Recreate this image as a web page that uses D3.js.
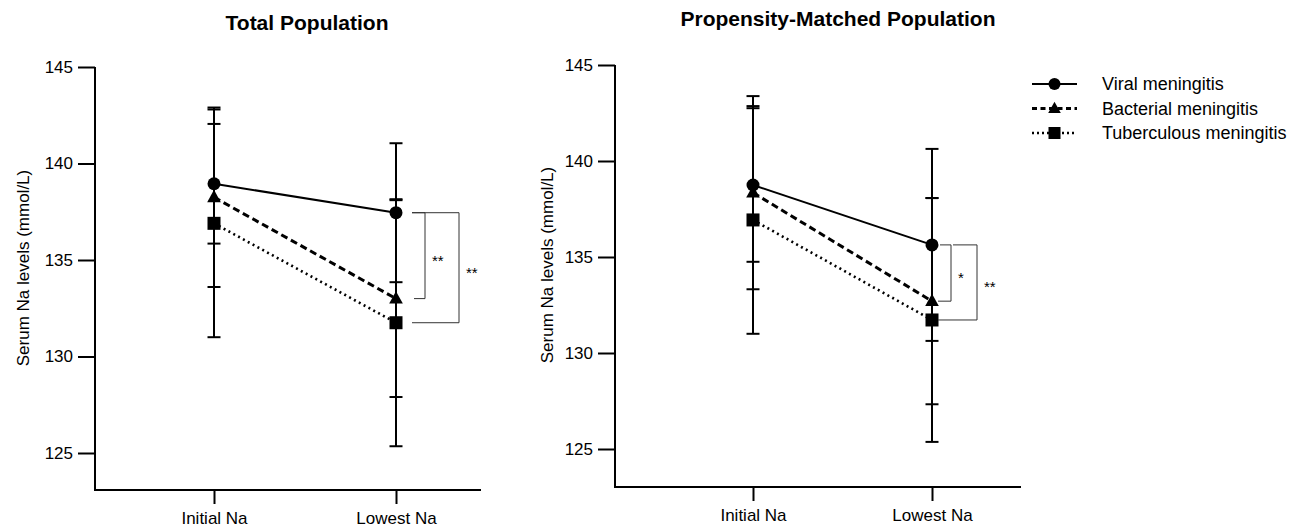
<!DOCTYPE html>
<html>
<head>
<meta charset="utf-8">
<script src="https://cdn.jsdelivr.net/npm/d3@7"></script>
<style>
  body { margin: 0; background: #fff; }
  text { font-family: "Liberation Sans", Arial, sans-serif; fill: #000; }
</style>
</head>
<body>
<script>
// data
var timepoints = ["Initial Na", "Lowest Na"];
var groups = ["Viral meningitis", "Bacterial meningitis", "Tuberculous meningitis"];
var yTicks = [125, 130, 135, 140, 145];

// total population: mean and SD per group, [initial, lowest]
var totalMean = [[138.95, 137.45], [138.25, 133.0], [136.9, 131.75]];
var totalSD   = [[3.1, 3.6], [4.65, 5.1], [5.9, 6.4]];
// propensity-matched population
var matchedMean = [[138.75, 135.63], [138.35, 132.7], [136.93, 131.72]];
var matchedSD   = [[4.0, 5.0], [5.03, 5.37], [5.93, 6.35]];

// significance brackets: [group a, group b, label]
var totalSig = [[0, 1, "**"], [0, 2, "**"]];
var matchedSig = [[0, 1, "*"], [0, 2, "**"]];

var W = 1296, H = 530;
var svg = d3.select("body").append("svg").attr("width", W).attr("height", H);

var lineStyle = [
  { dash: null, width: 2 },
  { dash: "7,4", width: 3 },
  { dash: "2,3.5", width: 2.6 }
];

function marker(g, i, x, y, s) {
  if (i == 0) {
    g.append("circle").attr("cx", x).attr("cy", y).attr("r", s);
  } else if (i == 1) {
    var h = s * 1.9;
    g.append("path")
      .attr("d", "M" + x + "," + (y - h * 0.6) + "L" + (x + s * 1.05) + "," + (y + h * 0.4) + "L" + (x - s * 1.05) + "," + (y + h * 0.4) + "Z");
  } else {
    g.append("rect").attr("x", x - s).attr("y", y - s).attr("width", s * 2).attr("height", s * 2);
  }
}

function panel(p) {
  var g = svg.append("g");
  var y = d3.scaleLinear().domain([125, 145]).range([p.y125, p.y145]);
  var x = d3.scalePoint().domain(timepoints).range([p.xi, p.xl]);

  g.append("text").attr("x", p.tx).attr("y", p.ty).attr("text-anchor", "middle")
    .style("font-weight", "bold").style("font-size", "21px").text(p.title);

  // y axis
  var ya = g.append("g").attr("transform", "translate(" + p.x0 + ",0)")
    .call(d3.axisLeft(y).tickValues(yTicks).tickSize(17).tickPadding(5).tickSizeOuter(0));
  ya.select(".domain").remove();
  ya.append("line").attr("x1", 0).attr("x2", 0).attr("y1", y(145)).attr("y2", p.yb + 1)
    .attr("stroke", "#000").attr("stroke-width", 2);
  ya.selectAll(".tick line").attr("stroke-width", 2);
  ya.selectAll(".tick text").style("font-size", "17px").style("font-family", "Liberation Sans, Arial, sans-serif");

  // x axis
  var xa = g.append("g").attr("transform", "translate(0," + p.yb + ")")
    .call(d3.axisBottom(x).tickSize(14).tickPadding(8).tickSizeOuter(0));
  xa.select(".domain").remove();
  xa.append("line").attr("x1", p.x0).attr("x2", p.x1).attr("y1", 0).attr("y2", 0)
    .attr("stroke", "#000").attr("stroke-width", 2);
  xa.selectAll(".tick line").attr("stroke-width", 2);
  xa.selectAll(".tick text").style("font-size", "17px").style("font-family", "Liberation Sans, Arial, sans-serif");

  g.append("text").attr("transform", "translate(" + p.lx + "," + p.ly + ") rotate(-90)")
    .attr("text-anchor", "middle").style("font-size", "17px").text("Serum Na levels (mmol/L)");

  // connecting lines
  p.mean.forEach(function(m, i) {
    g.append("path")
      .attr("d", d3.line().x(function(d, k) { return x(timepoints[k]); }).y(function(d) { return y(d); })(m))
      .attr("fill", "none").attr("stroke", "#000")
      .attr("stroke-width", lineStyle[i].width)
      .attr("stroke-dasharray", lineStyle[i].dash);
  });

  // error bars
  p.mean.forEach(function(m, i) {
    m.forEach(function(v, k) {
      var cx = x(timepoints[k]), sd = p.sd[i][k];
      g.append("line").attr("x1", cx).attr("x2", cx).attr("y1", y(v - sd)).attr("y2", y(v + sd))
        .attr("stroke", "#000").attr("stroke-width", 2);
      [v - sd, v + sd].forEach(function(e) {
        g.append("line").attr("x1", cx - 6.5).attr("x2", cx + 6.5).attr("y1", y(e)).attr("y2", y(e))
          .attr("stroke", "#000").attr("stroke-width", 2);
      });
    });
  });

  // markers
  p.mean.forEach(function(m, i) {
    m.forEach(function(v, k) {
      marker(g, i, x(timepoints[k]), y(v), 6.5);
    });
  });

  // significance brackets at the lowest Na
  var xl = x(timepoints[1]);
  p.sig.forEach(function(s, j) {
    var ya_ = y(p.mean[s[0]][1]), yb_ = y(p.mean[s[1]][1]);
    var bx = xl + p.bw[j];
    g.append("path")
      .attr("d", "M" + (xl + p.bs[j][0]) + "," + ya_ + "H" + bx + "V" + yb_ + "H" + (xl + p.bs[j][1]))
      .attr("fill", "none").attr("stroke", "#333").attr("stroke-width", 1);
    g.append("text").attr("x", bx + 7).attr("y", (ya_ + yb_) / 2 + 10)
      .style("font-size", "15px").text(s[2]);
  });
}

panel({
  title: "Total Population", tx: 307, ty: 30,
  x0: 95, x1: 481, yb: 490, y125: 453, y145: 67,
  xi: 214, xl: 396, lx: 29, ly: 268,
  mean: totalMean, sd: totalSD, sig: totalSig,
  bw: [29, 63], bs: [[16, 18], [16, 16]]
});

panel({
  title: "Propensity-Matched Population", tx: 838, ty: 26,
  x0: 615, x1: 1021, yb: 487, y125: 449, y145: 65,
  xi: 753, xl: 932, lx: 553, ly: 265,
  mean: matchedMean, sd: matchedSD, sig: matchedSig,
  bw: [19, 45], bs: [[8, 6], [21, 6]]
});

// legend
var leg = svg.append("g");
groups.forEach(function(name, i) {
  var ly = 84 + i * 24.5;
  leg.append("line").attr("x1", 1032).attr("x2", 1077).attr("y1", ly).attr("y2", ly)
    .attr("stroke", "#000").attr("stroke-width", lineStyle[i].width)
    .attr("stroke-dasharray", i == 1 ? "5,3.5" : (i == 2 ? "2,3" : null));
  marker(leg, i, 1054.5, ly, 6);
  leg.append("text").attr("x", 1102).attr("y", ly + 6).style("font-size", "18px").text(name);
});
</script>
</body>
</html>
